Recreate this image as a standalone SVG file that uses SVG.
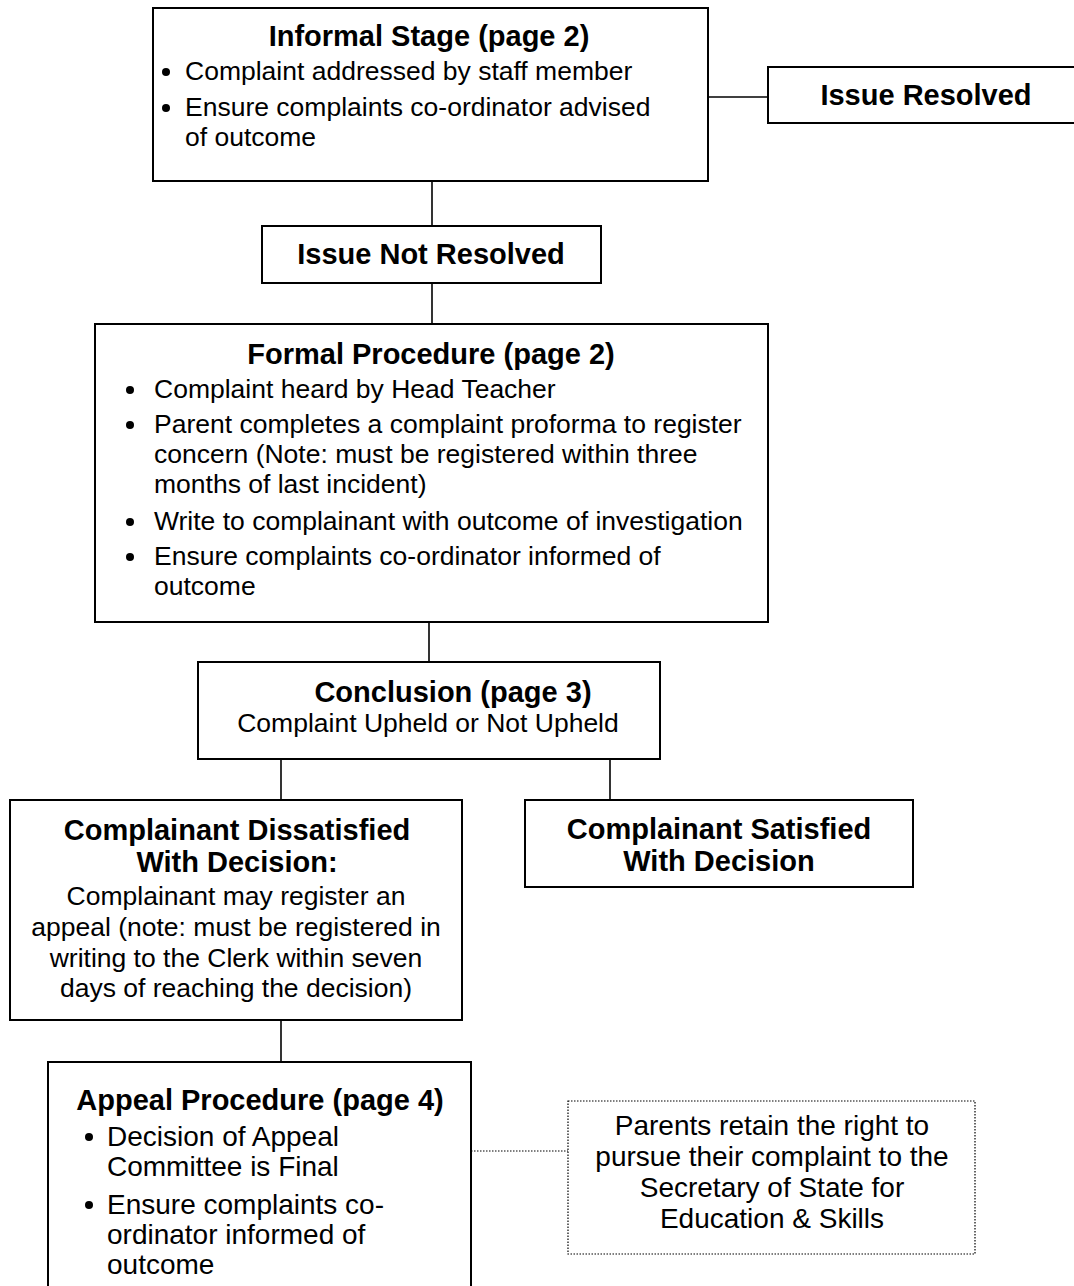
<svg xmlns="http://www.w3.org/2000/svg" width="1074" height="1286" viewBox="0 0 1074 1286">
<style>
.box{fill:#fff;stroke:#000;stroke-width:2}
.dot{fill:#fff;stroke:#000;stroke-width:1.2;stroke-dasharray:1.5 1.5}
.ln{stroke:#000;stroke-width:1.6;fill:none}
.dl{stroke:#000;stroke-width:1.2;stroke-dasharray:1.5 1.5;fill:none}
text{font-family:"Liberation Sans",Arial,sans-serif;font-size:26.5px;fill:#000}
.t{font-weight:bold;font-size:29px}
.b{font-size:28px}
.c{text-anchor:middle}
</style>
<rect width="1074" height="1286" fill="#fff"/>
<g id="connectors">
<line class="ln" x1="708" y1="97" x2="768" y2="97"/>
<line class="ln" x1="432" y1="181" x2="432" y2="226"/>
<line class="ln" x1="432" y1="283" x2="432" y2="324"/>
<line class="ln" x1="429" y1="622" x2="429" y2="662"/>
<line class="ln" x1="281" y1="759" x2="281" y2="800"/>
<line class="ln" x1="610" y1="759" x2="610" y2="800"/>
<line class="ln" x1="281" y1="1020" x2="281" y2="1062"/>
<line class="dl" x1="471" y1="1151" x2="568" y2="1151"/>
</g>
<g id="informal">
<rect class="box" x="153" y="8" width="555" height="173"/>
<text class="t c" x="429" y="46">Informal Stage (page 2)</text>
<circle cx="166" cy="72" r="4"/>
<text x="185" y="80">Complaint addressed by staff member</text>
<circle cx="166" cy="108" r="4"/>
<text x="185" y="116">Ensure complaints co-ordinator advised</text>
<text x="185" y="146">of outcome</text>
</g>
<g id="resolved">
<rect class="box" x="768" y="67" width="320" height="56"/>
<text class="t c" x="926" y="105">Issue Resolved</text>
</g>
<g id="not-resolved">
<rect class="box" x="262" y="226" width="339" height="57"/>
<text class="t c" x="431" y="264">Issue Not Resolved</text>
</g>
<g id="formal">
<rect class="box" x="95" y="324" width="673" height="298"/>
<text class="t c" x="431" y="364">Formal Procedure (page 2)</text>
<circle cx="130" cy="390" r="4"/>
<text x="154" y="398">Complaint heard by Head Teacher</text>
<circle cx="130" cy="425" r="4"/>
<text x="154" y="433">Parent completes a complaint proforma to register</text>
<text x="154" y="463">concern (Note: must be registered within three</text>
<text x="154" y="493">months of last incident)</text>
<circle cx="130" cy="522" r="4"/>
<text x="154" y="530">Write to complainant with outcome of investigation</text>
<circle cx="130" cy="557" r="4"/>
<text x="154" y="565">Ensure complaints co-ordinator informed of</text>
<text x="154" y="595">outcome</text>
</g>
<g id="conclusion">
<rect class="box" x="198" y="662" width="462" height="97"/>
<text class="t c" x="453" y="702">Conclusion (page 3)</text>
<text class="c" x="428" y="732">Complaint Upheld or Not Upheld</text>
</g>
<g id="dissatisfied">
<rect class="box" x="10" y="800" width="452" height="220"/>
<text class="t c" x="237" y="840">Complainant Dissatisfied</text>
<text class="t c" x="237" y="872">With Decision:</text>
<text class="c" x="236" y="905">Complainant may register an</text>
<text class="c" x="236" y="936">appeal (note: must be registered in</text>
<text class="c" x="236" y="967">writing to the Clerk within seven</text>
<text class="c" x="236" y="997">days of reaching the decision)</text>
</g>
<g id="satisfied">
<rect class="box" x="525" y="800" width="388" height="87"/>
<text class="t c" x="719" y="839">Complainant Satisfied</text>
<text class="t c" x="719" y="871">With Decision</text>
</g>
<g id="appeal">
<rect class="box" x="48" y="1062" width="423" height="240"/>
<text class="t c" x="260" y="1110">Appeal Procedure (page 4)</text>
<circle cx="89" cy="1137" r="4"/>
<text class="b" x="107" y="1146">Decision of Appeal</text>
<text class="b" x="107" y="1176">Committee is Final</text>
<circle cx="89" cy="1205" r="4"/>
<text class="b" x="107" y="1214">Ensure complaints co-</text>
<text class="b" x="107" y="1244">ordinator informed of</text>
<text class="b" x="107" y="1274">outcome</text>
</g>
<g id="note">
<rect class="dot" x="568" y="1101" width="407" height="153"/>
<text class="b c" x="772" y="1135">Parents retain the right to</text>
<text class="b c" x="772" y="1166">pursue their complaint to the</text>
<text class="b c" x="772" y="1197">Secretary of State for</text>
<text class="b c" x="772" y="1228">Education &amp; Skills</text>
</g>
</svg>
